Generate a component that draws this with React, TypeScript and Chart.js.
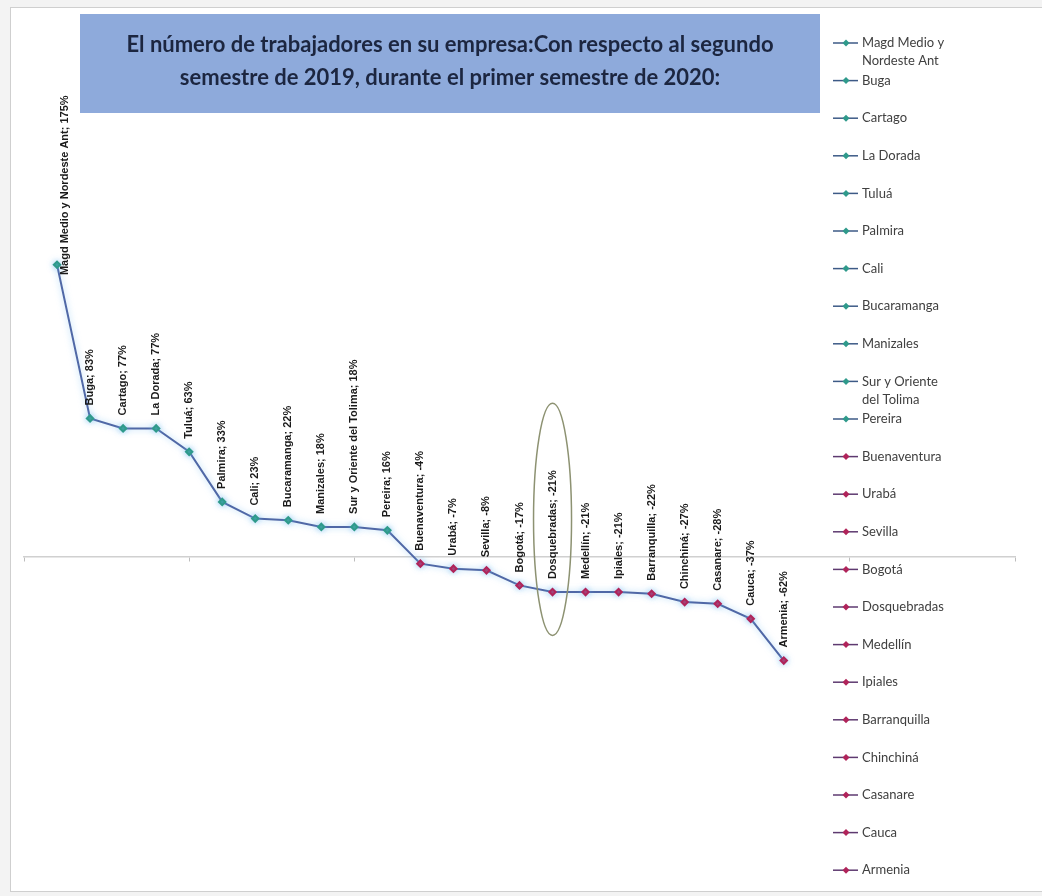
import React, { useEffect, useRef } from "react";
import { Chart, registerables } from "chart.js";

Chart.register(...registerables);

const categories = [
  "Magd Medio y Nordeste Ant",
  "Buga",
  "Cartago",
  "La Dorada",
  "Tuluá",
  "Palmira",
  "Cali",
  "Bucaramanga",
  "Manizales",
  "Sur y Oriente del Tolima",
  "Pereira",
  "Buenaventura",
  "Urabá",
  "Sevilla",
  "Bogotá",
  "Dosquebradas",
  "Medellín",
  "Ipiales",
  "Barranquilla",
  "Chinchiná",
  "Casanare",
  "Cauca",
  "Armenia",
];

const values = [175, 83, 77, 77, 63, 33, 23, 22, 18, 18, 16, -4, -7, -8, -17, -21, -21, -21, -22, -27, -28, -37, -62];

const titleLines = [
  "El número de trabajadores en su empresa:Con respecto al segundo",
  "semestre de 2019, durante el primer semestre de 2020:",
];

const highlightIndex = 15;
const highlightTop = 92;
const highlightBottom = -47;

const xMax = 30;
const xTickStep = 5;
const yMin = -180;
const yMax = 280;

const POS_COLOR = "#2f9a8b";
const NEG_COLOR = "#b0245a";
const LINE_COLOR = "#5068a6";
const POS_LEGEND_LINE = "#3d5a86";
const NEG_LEGEND_LINE = "#5e3a70";

const decorPlugin = {
  id: "decor",
  beforeDraw(chart: any) {
    const ctx = chart.ctx;
    const W = chart.width;
    const H = chart.height;
    ctx.save();
    ctx.fillStyle = "#f3f3f3";
    ctx.fillRect(0, 0, W, H);
    ctx.fillStyle = "#ffffff";
    ctx.fillRect(10, 7, W - 10, H - 11);
    ctx.strokeStyle = "#cfcfcf";
    ctx.lineWidth = 1;
    ctx.strokeRect(10.5, 7.5, W - 10, H - 12);
    // title box
    ctx.fillStyle = "#8eaadb";
    ctx.fillRect(80, 14, 740, 99);
    ctx.fillStyle = "#1c2640";
    ctx.font = "bold 22px Lato";
    ctx.textAlign = "center";
    ctx.textBaseline = "middle";
    ctx.fillText(titleLines[0], 450, 45);
    ctx.fillText(titleLines[1], 450, 78);
    ctx.restore();
  },
  beforeDatasetDraw(chart: any) {
    const ctx = chart.ctx;
    ctx.save();
    ctx.shadowColor = "rgba(110,185,240,0.6)";
    ctx.shadowBlur = 6;
  },
  afterDatasetDraw(chart: any) {
    chart.ctx.restore();
  },
  afterDatasetsDraw(chart: any) {
    const ctx = chart.ctx;
    const meta = chart.getDatasetMeta(0);
    const xs = chart.scales.x;
    const ys = chart.scales.y;
    const area = chart.chartArea;

    // highlight ellipse
    const cx = xs.getPixelForValue(highlightIndex + 1);
    const yt = ys.getPixelForValue(highlightTop);
    const yb = ys.getPixelForValue(highlightBottom);
    ctx.save();
    ctx.strokeStyle = "#8d9272";
    ctx.lineWidth = 1.5;
    ctx.beginPath();
    ctx.ellipse(cx, (yt + yb) / 2, 19, (yb - yt) / 2, 0, 0, Math.PI * 2);
    ctx.stroke();
    ctx.restore();

    // data labels
    ctx.save();
    ctx.font = "bold 11px 'Liberation Sans'";
    ctx.fillStyle = "#1a1a1a";
    ctx.textAlign = "left";
    ctx.textBaseline = "middle";
    const minTop = area.top + 6;
    meta.data.forEach((pt: any, i: number) => {
      const text = `${categories[i]}; ${values[i]}%`;
      const w = ctx.measureText(text).width;
      let bottom = pt.y - 13;
      if (bottom - w < minTop) bottom = minTop + w;
      const px = Math.max(pt.x, area.left + 41);
      ctx.save();
      ctx.translate(px, bottom);
      ctx.rotate(-Math.PI / 2);
      ctx.fillText(text, 0, 0);
      ctx.restore();
    });
    ctx.restore();

    // legend
    ctx.save();
    ctx.font = "13px Lato";
    ctx.textAlign = "left";
    ctx.textBaseline = "middle";
    const lx = 833;
    const startY = 43;
    const step = 37.6;
    categories.forEach((name, i) => {
      const y = startY + step * i;
      const pos = values[i] >= 0;
      ctx.strokeStyle = pos ? POS_LEGEND_LINE : NEG_LEGEND_LINE;
      ctx.lineWidth = 1.5;
      ctx.beginPath();
      ctx.moveTo(lx, y);
      ctx.lineTo(lx + 25, y);
      ctx.stroke();
      ctx.fillStyle = pos ? POS_COLOR : NEG_COLOR;
      ctx.beginPath();
      ctx.moveTo(lx + 13, y - 3.5);
      ctx.lineTo(lx + 16.5, y);
      ctx.lineTo(lx + 13, y + 3.5);
      ctx.lineTo(lx + 9.5, y);
      ctx.closePath();
      ctx.fill();
      // word wrap
      const words = name.split(" ");
      const lines: string[] = [];
      let cur = "";
      words.forEach((wd) => {
        const test = cur ? cur + " " + wd : wd;
        if (cur && ctx.measureText(test).width > 95) {
          lines.push(cur);
          cur = wd;
        } else cur = test;
      });
      lines.push(cur);
      ctx.fillStyle = "#404040";
      lines.forEach((ln, j) => ctx.fillText(ln, lx + 29, y + j * 18));
    });
    ctx.restore();
  },
};

export default function App() {
  const ref = useRef<HTMLCanvasElement>(null);
  useEffect(() => {
    if (!ref.current) return;
    const data = values.map((v, i) => ({ x: i + 1, y: v }));
    const chart = new Chart(ref.current, {
      type: "line",
      data: {
        datasets: [
          {
            label: "Trabajadores",
            data,
            borderColor: LINE_COLOR,
            borderWidth: 2,
            pointStyle: "rectRot",
            pointRadius: 3.2,
            pointBackgroundColor: values.map((v) => (v >= 0 ? POS_COLOR : NEG_COLOR)),
            pointBorderColor: values.map((v) => (v >= 0 ? POS_COLOR : NEG_COLOR)),
            tension: 0,
          },
        ],
      },
      options: {
        animation: false,
        responsive: false,
        layout: { padding: { left: 24, right: 27, top: 89.4, bottom: 38.4 } },
        plugins: { legend: { display: false }, title: { display: false }, tooltip: { enabled: false } },
        scales: {
          x: {
            type: "linear",
            min: 0,
            max: xMax,
            position: { y: 0 } as any,
            ticks: { display: false, stepSize: xTickStep },
            grid: { drawOnChartArea: false, drawTicks: true, tickLength: 4, color: "#bdbdbd" },
            border: { display: true, color: "#d0d0d0", width: 1.5 },
          },
          y: {
            min: yMin,
            max: yMax,
            display: false,
          },
        },
      },
      plugins: [decorPlugin],
    });
    return () => chart.destroy();
  }, []);
  return (
    <canvas
      ref={ref}
      width={1042}
      height={896}
      style={{ position: "fixed", left: 0, top: 0, display: "block" }}
    />
  );
}
